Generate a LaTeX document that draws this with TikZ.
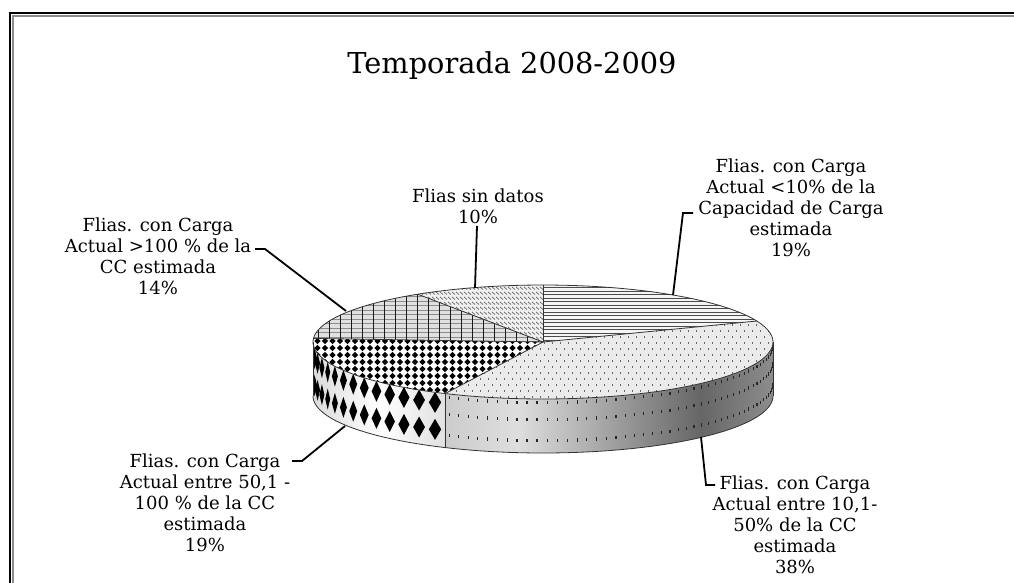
\documentclass[tikz,border=0pt]{standalone}
\usepackage{fontspec}
\setmainfont{DejaVu Serif}
\pgfdeclarehorizontalshading{sidegrad}{100bp}{color(0bp)=(black!20); color(25bp)=(black!20); color(36bp)=(black!13); color(64bp)=(black!60); color(75bp)=(black!45); color(100bp)=(black!45)}
\begin{document}
\begin{tikzpicture}[x=1pt,y=-1pt,
  lbl/.style={align=center,inner sep=0pt,font=\fontsize{18}{21}\selectfont},
  ttl/.style={inner sep=0pt,font=\fontsize{28.8}{32}\selectfont},
  leader/.style={line width=1.8pt,black},
  edge/.style={draw=black!80,line width=0.8pt}]
\def\cx{543}\def\cy{342}\def\ra{230}\def\rb{57}\def\dep{54}
\useasboundingbox (0,0) rectangle (1014,583);
\fill[white] (0,0) rectangle (1014,583);
% frame
\draw[black!45,line width=1.5pt] (12.8,583) -- (12.8,15.8) -- (1014,15.8);
\draw[black,line width=2.2pt] (10,583) -- (10,13) -- (1014,13);
% ---------- side of slice 2 ----------
\shade[shading=sidegrad] plot[domain=0:-115.2,samples=60] ({\cx+\ra*cos(\x)},{\cy-\rb*sin(\x)}) -- plot[domain=-115.2:0,samples=60] ({\cx+\ra*cos(\x)},{\cy+\dep-\rb*sin(\x)}) -- cycle;
\begin{scope}
\clip plot[domain=0:-115.2,samples=60] ({\cx+\ra*cos(\x)},{\cy-\rb*sin(\x)}) -- plot[domain=-115.2:0,samples=60] ({\cx+\ra*cos(\x)},{\cy+\dep-\rb*sin(\x)}) -- cycle;
\foreach \t in {-1.5,-4,...,-115} {
  \pgfmathsetmacro\px{\cx+\ra*cos(\t)}
  \pgfmathsetmacro\py{\cy-\rb*sin(\t)}
  \foreach \o in {2,19,40} \fill[black!85] (\px-0.5,\py+\o) rectangle ++(1.1,3.2);
}
\end{scope}
% ---------- side of slice 3 ----------
\shade[left color=black!14,right color=black!12,middle color=white] plot[domain=-115.2:-180,samples=40] ({\cx+\ra*cos(\x)},{\cy-\rb*sin(\x)}) -- plot[domain=-180:-115.2,samples=40] ({\cx+\ra*cos(\x)},{\cy+\dep-\rb*sin(\x)}) -- cycle;
\begin{scope}
\clip plot[domain=-115.2:-180,samples=40] ({\cx+\ra*cos(\x)},{\cy-\rb*sin(\x)}) -- plot[domain=-180:-115.2,samples=40] ({\cx+\ra*cos(\x)},{\cy+\dep-\rb*sin(\x)}) -- cycle;
\foreach \t in {-118,-122.6,...,-182} {
  \pgfmathsetmacro\px{\cx+\ra*cos(\t)}
  \pgfmathsetmacro\py{\cy-\rb*sin(\t)}
  \pgfmathsetmacro\hw{max(2.5,7*abs(sin(\t)))}
  \foreach \o in {10,37} \fill[black] (\px-\hw,\py+\o) -- (\px,\py+\o-10.5) -- (\px+\hw,\py+\o) -- (\px,\py+\o+10.5) -- cycle;
}
\end{scope}
% ---------- top: slice 1 (<10%) ----------
\begin{scope}
\clip (\cx,\cy) -- plot[domain=21.6:90,samples=40] ({\cx+\ra*cos(\x)},{\cy-\rb*sin(\x)}) -- cycle;
\fill[black!4] (540,280) rectangle (780,346);
\foreach \yy in {284,287.5,...,345} \draw[black!70,line width=0.8pt] (540,\yy) -- (780,\yy);
\end{scope}
% ---------- top: slice 2 (10,1-50%) ----------
\begin{scope}
\clip (\cx,\cy) -- plot[domain=-115.2:21.6,samples=80] ({\cx+\ra*cos(\x)},{\cy-\rb*sin(\x)}) -- cycle;
\fill[black!8] (440,310) rectangle (780,400);
\foreach \yy [count=\k] in {312,318,...,400} {
  \pgfmathsetmacro\off{mod(\k,2)*4}
  \foreach \xx in {440,448,...,780} \fill[black!60] (\xx+\off,\yy) rectangle ++(1,1.8);
}
\end{scope}
% ---------- top: slice 3 (50,1-100%) ----------
\begin{scope}
\clip (\cx,\cy) -- plot[domain=-183.6:-115.2,samples=40] ({\cx+\ra*cos(\x)},{\cy-\rb*sin(\x)}) -- cycle;
\fill[white] (310,330) rectangle (550,400);
\foreach \yy in {334,341,...,400} \foreach \xx in {310,317.5,...,550}
  \fill[black] (\xx-3.2,\yy) -- (\xx,\yy-3.1) -- (\xx+3.2,\yy) -- (\xx,\yy+3.1) -- cycle;
\end{scope}
% ---------- top: slice 4 (>100%) ----------
\begin{scope}
\clip (\cx,\cy) -- plot[domain=123:176.4,samples=40] ({\cx+\ra*cos(\x)},{\cy-\rb*sin(\x)}) -- cycle;
\fill[black!12] (310,290) rectangle (545,345);
\foreach \yy in {292,296.5,...,345} \draw[black!45,line width=0.7pt] (310,\yy) -- (545,\yy);
\foreach \xx in {318,329,...,545} \draw[black!90,line width=0.9pt] (\xx,290) -- (\xx,345);
\end{scope}
% ---------- top: slice 5 (sin datos) ----------
\begin{scope}
\clip (\cx,\cy) -- plot[domain=90:123,samples=30] ({\cx+\ra*cos(\x)},{\cy-\rb*sin(\x)}) -- cycle;
\fill[black!6] (400,280) rectangle (546,345);
\foreach \yy in {282,287,...,345} \foreach \xx in {400,404,...,546}
  \draw[black!60,line width=0.7pt] (\xx,\yy) -- ++(3,2.5);
\end{scope}
% ---------- outlines ----------
\draw[edge] plot[domain=0:360,samples=120] ({\cx+\ra*cos(\x)},{\cy-\rb*sin(\x)});
\draw[edge] plot[domain=-180:0,samples=90] ({\cx+\ra*cos(\x)},{\cy+\dep-\rb*sin(\x)});
\draw[edge] ({\cx-\ra},\cy) -- ({\cx-\ra},{\cy+\dep});
\draw[edge] ({\cx+\ra},\cy) -- ({\cx+\ra},{\cy+\dep});
\draw[edge] ({\cx+\ra*cos(-115.2)},{\cy-\rb*sin(-115.2)}) -- ++(0,\dep);
\foreach \a in {90,21.6,-115.2,176.4,123}
  \draw[edge] (\cx,\cy) -- ({\cx+\ra*cos(\a)},{\cy-\rb*sin(\a)});
% ---------- labels ----------
\node[ttl] (title) at (512,66) {Temporada 2008-2009};
\node[lbl] (l1) at (791,207.5) {Flias. con Carga\\Actual <10\% de la\\Capacidad de Carga\\estimada\\19\%};
\node[lbl] (l2) at (795,524.5) {Flias. con Carga\\Actual entre 10,1-\\50\% de la CC\\estimada\\38\%};
\node[lbl] (l3) at (205,502.5) {Flias. con Carga\\Actual entre 50,1 -\\100 \% de la CC\\estimada\\19\%};
\node[lbl] (l4) at (158,256.5) {Flias. con Carga\\Actual >100 \% de la\\CC estimada\\14\%};
\node[lbl] (l5) at (478,206.5) {Flias sin datos\\10\%};
% leader coordinates
\coordinate (a1) at (693,213); \coordinate (b1) at (683,213); \coordinate (c1) at (673,295);
\coordinate (a2) at (715,485); \coordinate (b2) at (706,485); \coordinate (c2) at (701,437);
\coordinate (a3) at (292,461); \coordinate (b3) at (302,461); \coordinate (c3) at (345,426);
\coordinate (a4) at (255,249); \coordinate (b4) at (265,249); \coordinate (c4) at (346,311);
\coordinate (a5) at (477,226); \coordinate (c5) at (475,288);
\draw[leader] (a1) -- (b1) -- (c1);
\draw[leader] (a2) -- (b2) -- (c2);
\draw[leader] (a3) -- (b3) -- (c3);
\draw[leader] (a4) -- (b4) -- (c4);
\draw[leader] (a5) -- (c5);
\end{tikzpicture}
\end{document}
